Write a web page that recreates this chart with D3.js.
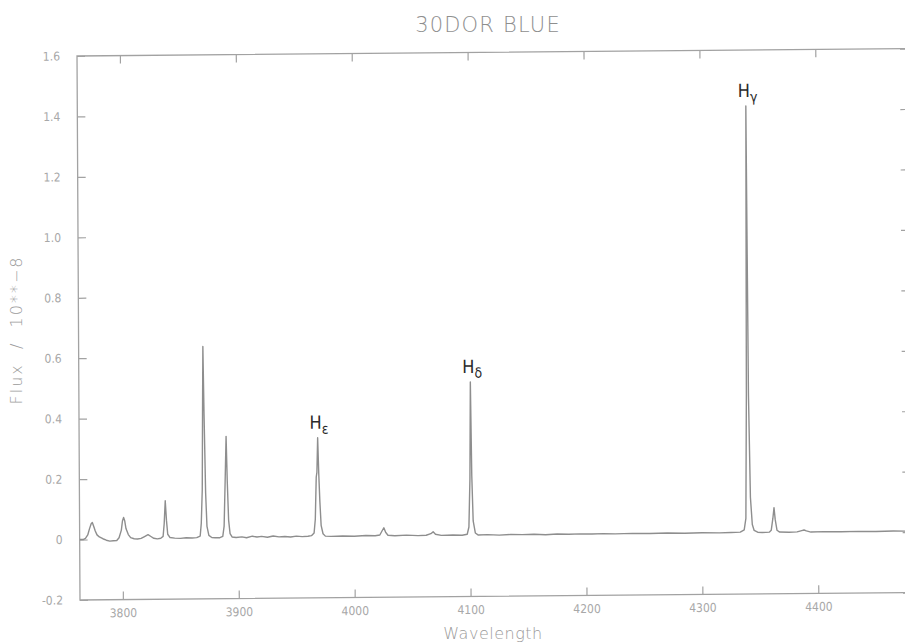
<!DOCTYPE html>
<html>
<head>
<meta charset="utf-8">
<script src="https://cdn.jsdelivr.net/npm/d3@7"></script>
<style>
  body { margin: 0; background: #fff; }
  text { font-family: "DejaVu Sans Condensed", "DejaVu Sans", sans-serif; font-stretch: condensed; }
  text.light { font-family: "DejaVu Sans", sans-serif; font-stretch: normal; font-weight: 200; }
</style>
</head>
<body>
<div id="chart"></div>
<script>
const width = 905
const height = 642
const margin = {top: 56, bottom: 42, left: 80, right: -6}
const netWidth = width - margin.left - margin.right
const netHeight = height - margin.top - margin.bottom

// Spectrum (wavelength in Angstrom, flux in 1e-8 units)
const wavelength = [
  3763, 3766, 3768, 3770, 3771.5, 3773, 3774, 3775, 3776.5, 3778, 3780, 3783, 3786, 3789, 3792, 3795,
  3797, 3799, 3800, 3801, 3802, 3803, 3805, 3807, 3810, 3813, 3816, 3819, 3822, 3824.5, 3827, 3830,
  3833, 3835, 3836, 3837, 3838, 3839, 3841, 3845, 3850, 3855, 3860, 3864,
  3867, 3868, 3869, 3869.6, 3870.2, 3870.9, 3871.9, 3872.9, 3874.5, 3877, 3880, 3884,
  3886.5, 3887.7, 3888.8, 3889.8, 3890.6, 3891.6, 3892.8, 3894.5, 3898, 3903, 3907, 3912, 3916, 3920, 3925, 3930,
  3935, 3940, 3945, 3950, 3955, 3960, 3963, 3965.3, 3966.4, 3967.4, 3968, 3968.8, 3969.6, 3970.4, 3971.4, 3973,
  3975, 3980, 3990, 4000, 4010, 4018, 4022, 4024, 4025.5, 4027, 4029, 4035, 4045, 4055, 4062, 4066,
  4068, 4070, 4075, 4085, 4093, 4097.4, 4098.9, 4100, 4100.8, 4101.6, 4102.6, 4104.4, 4107,
  4115, 4125, 4135, 4145, 4155, 4165, 4175, 4185, 4195, 4205, 4215, 4225, 4240, 4255, 4270, 4285,
  4300, 4315, 4325, 4333, 4336.4, 4337.9, 4338.9, 4339.8, 4340.7, 4341.9, 4343.4, 4345, 4348, 4352, 4358,
  4359.7, 4361.2, 4362.2, 4363.2, 4364.7, 4367, 4375, 4382, 4386, 4388, 4390, 4394, 4405, 4420, 4435, 4450,
  4465, 4480
]
const flux = [
  0.000, 0.000, 0.004, 0.015, 0.035, 0.052, 0.056, 0.045, 0.028, 0.015, 0.008, 0.002, -0.003, -0.006, -0.005, -0.004,
  0.005, 0.030, 0.060, 0.072, 0.060, 0.035, 0.015, 0.005, 0.001, 0.000, 0.002, 0.008, 0.014, 0.008, 0.002, 0.000,
  0.002, 0.008, 0.050, 0.126, 0.060, 0.015, 0.004, 0.002, 0.001, 0.003, 0.002, 0.003,
  0.008, 0.050, 0.160, 0.410, 0.635, 0.410, 0.150, 0.040, 0.010, 0.003, 0.002, 0.002,
  0.006, 0.040, 0.190, 0.337, 0.190, 0.060, 0.015, 0.004, 0.002, 0.004, 0.001, 0.006, 0.003, 0.005, 0.002, 0.006,
  0.003, 0.004, 0.002, 0.005, 0.003, 0.004, 0.006, 0.015, 0.060, 0.200, 0.215, 0.330, 0.210, 0.120, 0.040, 0.012,
  0.004, 0.003, 0.004, 0.003, 0.005, 0.004, 0.006, 0.020, 0.030, 0.015, 0.005, 0.003, 0.005, 0.003, 0.004, 0.009,
  0.015, 0.007, 0.003, 0.004, 0.003, 0.006, 0.030, 0.190, 0.510, 0.200, 0.050, 0.010, 0.003,
  0.004, 0.002, 0.004, 0.003, 0.004, 0.002, 0.004, 0.003, 0.004, 0.003, 0.004, 0.003, 0.004, 0.003, 0.004, 0.003,
  0.004, 0.003, 0.004, 0.005, 0.012, 0.050, 0.460, 1.415, 0.460, 0.120, 0.030, 0.010, 0.004, 0.003, 0.004,
  0.010, 0.050, 0.085, 0.045, 0.010, 0.004, 0.003, 0.004, 0.008, 0.010, 0.007, 0.003, 0.004, 0.003, 0.004, 0.003,
  0.004, 0.003
]

// Line identifications
const lineNames = ["ε", "δ", "γ"]
const lineWavelengths = [3968.8, 4100.8, 4339.8]
const linePeaks = [0.33, 0.51, 1.415]

const xTicks = [3800, 3900, 4000, 4100, 4200, 4300, 4400]
const yTicks = [-0.2, 0, 0.2, 0.4, 0.6, 0.8, 1.0, 1.2, 1.4, 1.6]

const frameColor = "#a2a2a2"
const labelColor = "#a8a8a8"

const svg = d3.select("div#chart").append("svg").attr("width", width).attr("height", height)

// the scanned page is slightly skewed: horizontals climb to the right, verticals lean left
const ox = margin.left, oy = margin.top + netHeight
const page = svg.append("g").attr("transform", `translate(${ox}, ${oy}) matrix(1, -0.009, 0.0055, 1, 0, 0) translate(${-ox}, ${-oy})`)
const elementGroup = page.append("g").attr("transform", `translate(${margin.left}, ${margin.top})`)

const x = d3.scaleLinear().domain([3763, 4480]).range([0, netWidth])
const y = d3.scaleLinear().domain([-0.2, 1.6]).range([netHeight, 0])

const fmt = d => d === 0 ? "0" : d3.format(".1f")(d).replace("−", "-")

const xAxis = d3.axisBottom(x).tickValues(xTicks).tickFormat(d3.format("d")).tickSizeInner(-8).tickSizeOuter(0).tickPadding(9)
const yAxis = d3.axisLeft(y).tickValues(yTicks).tickFormat(fmt).tickSizeInner(-8).tickSizeOuter(0).tickPadding(17)
const topAxis = d3.axisTop(x).tickValues(xTicks).tickFormat("").tickSizeInner(-8).tickSizeOuter(0)
const rightAxis = d3.axisRight(y).tickValues(yTicks).tickFormat("").tickSizeInner(-8).tickSizeOuter(0)

const xAxisGroup = elementGroup.append("g").attr("transform", `translate(0, ${netHeight})`).call(xAxis)
const yAxisGroup = elementGroup.append("g").call(yAxis)
const topAxisGroup = elementGroup.append("g").call(topAxis)
const rightAxisGroup = elementGroup.append("g").attr("transform", `translate(${netWidth}, 0)`).call(rightAxis)

;[xAxisGroup, yAxisGroup, topAxisGroup, rightAxisGroup].forEach(g => {
  g.select(".domain").remove()
  g.selectAll("line").attr("stroke", frameColor).attr("stroke-width", 1.2)
  g.selectAll("text").attr("fill", labelColor).attr("font-size", 12).attr("font-family", null)
})

elementGroup.append("rect")
  .attr("width", netWidth).attr("height", netHeight)
  .attr("fill", "none").attr("stroke", frameColor).attr("stroke-width", 1.3)

// Spectrum
elementGroup.append("clipPath").attr("id", "clip")
  .append("rect").attr("width", netWidth).attr("height", netHeight)

const spectrum = wavelength.map((w, i) => ({w: w, f: flux[i]}))
const line = d3.line().x(d => x(d.w)).y(d => y(d.f))

elementGroup.append("path")
  .datum(spectrum)
  .attr("clip-path", "url(#clip)")
  .attr("d", line)
  .attr("fill", "none")
  .attr("stroke", "#8e8e8e")
  .attr("stroke-width", 1.4)
  .attr("stroke-linejoin", "round")

// Balmer line labels
const labels = elementGroup.selectAll("text.hline")
  .data(lineNames)
  .enter().append("text")
  .attr("class", "hline")
  .attr("x", (d, i) => x(lineWavelengths[i]) - 8)
  .attr("y", (d, i) => y(linePeaks[i]) - 9)
  .attr("fill", "#2a2a2a")
  .attr("font-size", 18)
labels.append("tspan").text("H")
labels.append("tspan").attr("dy", 5).attr("font-size", 14).text(d => d)

// Titles
svg.append("text")
  .attr("class", "light")
  .attr("x", 488).attr("y", 32)
  .attr("text-anchor", "middle")
  .attr("fill", "#8e8e8e")
  .attr("font-size", 21)
  .attr("letter-spacing", 1.2)
  .text("30DOR BLUE")

svg.append("text")
  .attr("class", "light")
  .attr("x", 493).attr("y", 639)
  .attr("text-anchor", "middle")
  .attr("fill", "#9a9a9a")
  .attr("font-size", 16)
  .attr("letter-spacing", 0.5)
  .text("Wavelength")

svg.append("text")
  .attr("class", "light")
  .attr("transform", "translate(22, 330) rotate(-90)")
  .attr("text-anchor", "middle")
  .attr("fill", "#9a9a9a")
  .attr("font-size", 16)
  .attr("letter-spacing", 2)
  .style("white-space", "pre")
  .text("Flux  /  10**−8")
</script>
</body>
</html>
